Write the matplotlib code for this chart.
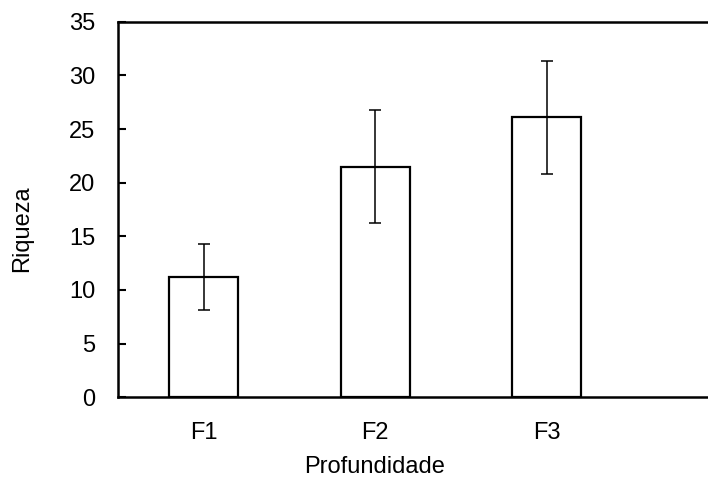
import matplotlib
matplotlib.use("Agg")
import matplotlib.pyplot as plt

plt.rcParams['font.family'] = ['Liberation Sans', 'DejaVu Sans']

categories = ["F1", "F2", "F3"]
riqueza = [11.2, 21.5, 26.1]
erro = [3.1, 5.3, 5.25]
y_ticks = [0, 5, 10, 15, 20, 25, 30, 35]

W, H = 708, 479
AX_W = 4 * 171.5
fig = plt.figure(figsize=(W / 100, H / 100), dpi=100)
# plot area runs past the right edge of the canvas
ax = fig.add_axes([118 / W, 1 - 397.3 / H, AX_W / W, 375.6 / H])

x = list(range(len(categories)))
ax.bar(x, riqueza, width=0.4, color="white", edgecolor="black", linewidth=1.6,
       yerr=erro, error_kw=dict(ecolor="black", elinewidth=1.1, capsize=4.5, capthick=1.1),
       zorder=2)

ax.set_xlim(-0.5, 3.5)
ax.set_ylim(0, 35)
ax.set_yticks(y_ticks)
ax.set_xticks(x)
ax.set_xticklabels(categories)

for side in ["left", "bottom", "top"]:
    ax.spines[side].set_linewidth(1.8)
    ax.spines[side].set_color("black")
ax.spines["right"].set_visible(False)

ax.tick_params(axis="y", direction="in", length=5.5, width=1.5, labelsize=17, pad=16.5)
ax.tick_params(axis="x", length=0, labelsize=17, pad=17.5)

ax.set_ylabel("Riqueza", fontsize=17)
ax.yaxis.set_label_coords((33 - 118) / AX_W, 0.45)
ax.set_xlabel("Profundidade", fontsize=17)
ax.xaxis.set_label_coords((374.2 - 118) / AX_W, (397.3 - 456) / 375.6)

fig.savefig("out.png", dpi=100)
